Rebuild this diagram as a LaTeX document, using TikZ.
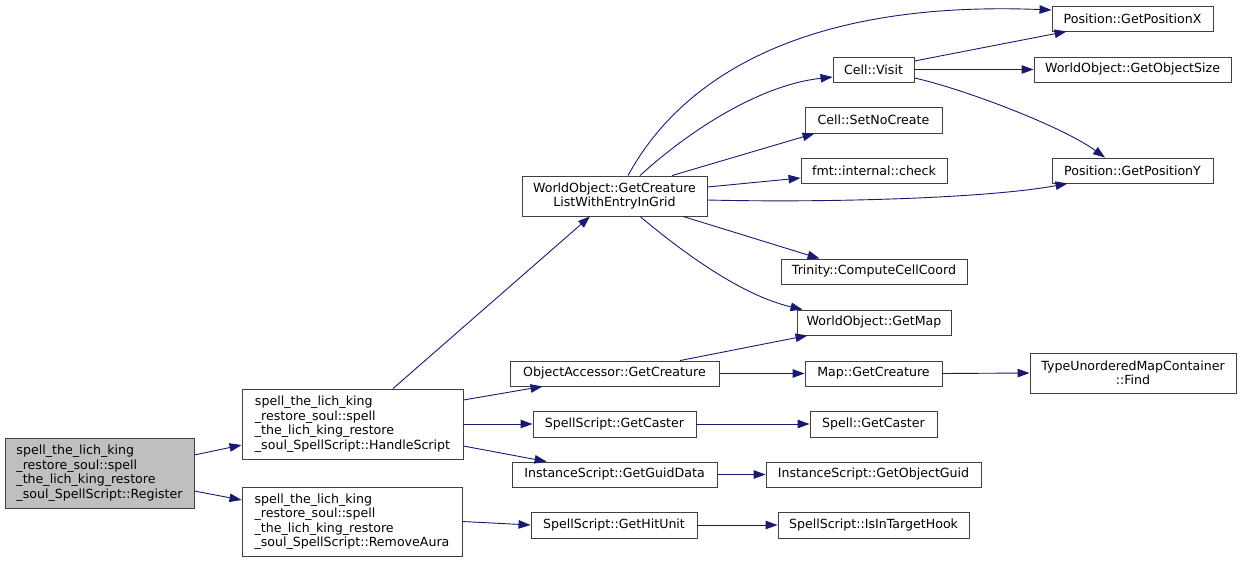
\documentclass[tikz,border=0pt]{standalone}
\usepackage{fontspec}
\setmainfont{DejaVu Sans}
\usetikzlibrary{arrows.meta}
\definecolor{edgec}{HTML}{191970}
\definecolor{regfill}{HTML}{BFBFBF}
\begin{document}
\begin{tikzpicture}[x=1pt,y=-1pt,
  fn/.style={draw=black!75, line width=0.9pt, inner sep=0pt, fill=white,
    font=\fontsize{12.6}{14.5}\selectfont, minimum height=25pt},
  multi/.style={fn, align=left},
  two/.style={fn, align=center, minimum height=40pt},
  call/.style={draw=edgec, line width=0.9pt, -{Triangle[length=12pt,width=8.5pt]}}]
\useasboundingbox (0,0) rectangle (1241,562);
% column 1
\node[multi, fill=regfill, minimum width=189pt, minimum height=70pt] (reg) at (99.5,473)
  {spell\_the\_lich\_king\\\_restore\_soul::spell\\\_the\_lich\_king\_restore\\\_soul\_SpellScript::Register};
% column 2
\node[multi, minimum width=221pt, minimum height=70pt] (hs) at (352.5,424)
  {spell\_the\_lich\_king\\\_restore\_soul::spell\\\_the\_lich\_king\_restore\\\_soul\_SpellScript::HandleScript};
\node[multi, minimum width=220pt, minimum height=69pt] (ra) at (352,521.5)
  {spell\_the\_lich\_king\\\_restore\_soul::spell\\\_the\_lich\_king\_restore\\\_soul\_SpellScript::RemoveAura};
% column 3
\node[two, minimum width=185pt] (gcl) at (614.5,196) {WorldObject::GetCreature\\ListWithEntryInGrid};
\node[fn, minimum width=209pt] (oa) at (614.5,373.5) {ObjectAccessor::GetCreature};
\node[fn, minimum width=163pt, minimum height=26pt] (ssgc) at (614.5,424) {SpellScript::GetCaster};
\node[fn, minimum width=205pt] (igd) at (614.5,474.5) {InstanceScript::GetGuidData};
\node[fn, minimum width=166pt, minimum height=26pt] (ghu) at (614,525) {SpellScript::GetHitUnit};
% column 4
\node[fn, minimum width=81pt] (cv) at (873.5,69.5) {Cell::Visit};
\node[fn, minimum width=137pt, minimum height=26pt] (snc) at (873.5,120) {Cell::SetNoCreate};
\node[fn, minimum width=146pt] (fmt) at (874,170.5) {fmt::internal::check};
\node[fn, minimum width=186pt] (ccc) at (874,271.5) {Trinity::ComputeCellCoord};
\node[fn, minimum width=154pt] (gm) at (874,322.5) {WorldObject::GetMap};
\node[fn, minimum width=137pt] (mgc) at (873.5,373.5) {Map::GetCreature};
\node[fn, minimum width=127pt, minimum height=26pt] (sgc) at (873.5,424) {Spell::GetCaster};
\node[fn, minimum width=215pt] (iog) at (873.5,474.5) {InstanceScript::GetObjectGuid};
\node[fn, minimum width=191pt, minimum height=26pt] (ith) at (873.5,525) {SpellScript::IsInTargetHook};
% column 5
\node[fn, minimum width=161pt] (px) at (1132.5,18.5) {Position::GetPositionX};
\node[fn, minimum width=197pt] (gos) at (1132.5,69.5) {WorldObject::GetObjectSize};
\node[fn, minimum width=161pt] (py) at (1132.5,170.5) {Position::GetPositionY};
\node[two, minimum width=206pt] (find) at (1133,373) {TypeUnorderedMapContainer\\::Find};
% edges
\draw[call] ([yshift=18pt]reg.east) -- ([yshift=-21pt]hs.west);
\draw[call] ([yshift=-18pt]reg.east) -- ([yshift=21.5pt]ra.west);
\draw[call] ([xshift=40.5pt]hs.north) -- ([xshift=-24.5pt]gcl.south);
\draw[call] ([yshift=24pt]hs.east) -- ([xshift=33pt]oa.south west);
\draw[call] (hs.east) -- (ssgc.west);
\draw[call] ([yshift=-22pt]hs.east) -- ([xshift=35pt]igd.north west);
\draw[call] (ra.east) -- (ghu.west);
\draw[call] ([xshift=13.5pt]gcl.north) .. controls (680,80) and (800,0) .. ([yshift=8.5pt]px.west);
\draw[call] ([xshift=25.5pt]gcl.north) .. controls (690,130) and (760,85) .. ([yshift=-7.5pt]cv.west);
\draw[call] ([xshift=57.5pt]gcl.north) -- ([xshift=10pt]snc.south west);
\draw[call] ([yshift=9pt]gcl.east) -- ([yshift=-7.5pt]fmt.west);
\draw[call] ([yshift=-4pt]gcl.east) .. controls (830,203) and (990,198) .. ([xshift=16pt]py.south west);
\draw[call] ([xshift=68.5pt]gcl.south) -- ([xshift=39pt]ccc.north west);
\draw[call] ([xshift=25.5pt]gcl.south) .. controls (680,250) and (740,295) .. ([xshift=6pt]gm.north west);
\draw[call] ([yshift=8.5pt]cv.east) -- ([xshift=15pt]px.south west);
\draw[call] (cv.east) -- (gos.west);
\draw[call] ([yshift=-8.5pt]cv.east) .. controls (960,88) and (1060,125) .. ([xshift=-27.5pt]py.north);
\draw[call] ([xshift=65.5pt]oa.north) -- ([xshift=11pt]gm.south west);
\draw[call] (oa.east) -- (mgc.west);
\draw[call] (mgc.east) -- (find.west);
\draw[call] (ssgc.east) -- (sgc.west);
\draw[call] (igd.east) -- (iog.west);
\draw[call] (ghu.east) -- (ith.west);
\end{tikzpicture}
\end{document}
